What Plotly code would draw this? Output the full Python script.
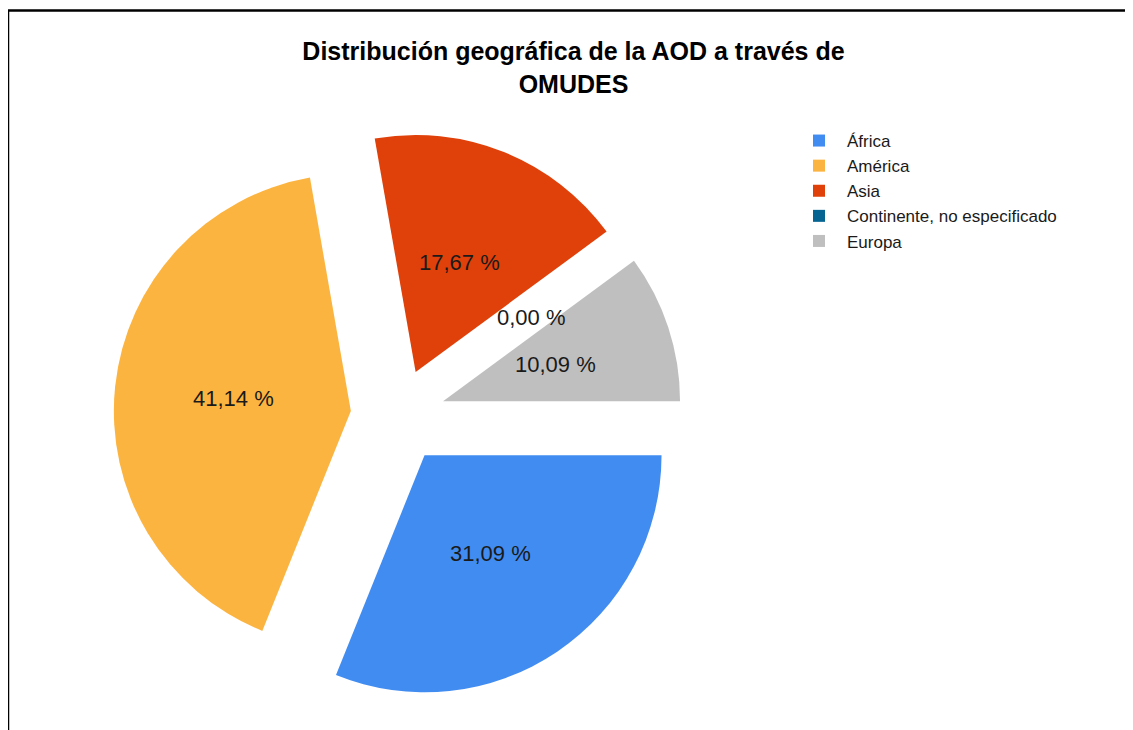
import math
import plotly.graph_objects as go

labels = ["África", "América", "Asia", "Continente, no especificado", "Europa"]
values = [31.09, 41.14, 17.67, 0.00, 10.09]
colors = ["#418CF0", "#FCB441", "#E0400A", "#056492", "#BFBFBF"]
pulls = [0.2, 0.2, 0.2, 0.2, 0.2]

texts = [f"{v:.2f}".replace(".", ",") + " %" for v in values]

W, H = 1133, 730
cx, cy, r = 390, 408, 237
box = 2 * r * (1 + max(pulls))

fig = go.Figure(go.Pie(
    labels=labels,
    values=values,
    textinfo="none",
    sort=False,
    direction="clockwise",
    rotation=90,
    pull=pulls,
    marker=dict(colors=colors, line=dict(width=0)),
    domain=dict(x=[(cx - box / 2) / W, (cx + box / 2) / W],
                y=[1 - (cy + box / 2) / H, 1 - (cy - box / 2) / H]),
    hoverinfo="label+value",
))

# percentage labels placed at half radius along each slice's mid-angle
total = sum(values)
annotations = []
cum = 0.0
for v, t, p in zip(values, texts, pulls):
    theta = math.radians(360 * (cum + v / 2) / total)
    cum += v
    d = p * r + 0.5 * r
    px = cx + d * math.cos(theta)
    py = cy + d * math.sin(theta)
    annotations.append(dict(
        x=px / W, y=1 - py / H, xref="paper", yref="paper",
        text=t, showarrow=False, xanchor="center", yanchor="middle",
        font=dict(family="Liberation Sans, Arial", size=22, color="#1a1a1a"),
    ))

fig.update_layout(
    width=W, height=H,
    margin=dict(l=0, r=0, t=0, b=0),
    paper_bgcolor="white",
    plot_bgcolor="white",
    title=dict(
        text="Distribución geográfica de la AOD a través de<br>OMUDES",
        x=565.5 / W, xanchor="center",
        y=1 - 52 / H, yanchor="middle",
        font=dict(family="Liberation Sans, Arial", size=25, color="#000000", weight="bold"),
    ),
    legend=dict(
        x=783 / W, xanchor="left",
        y=1 - 115 / H, yanchor="top",
        font=dict(family="Liberation Sans, Arial", size=17, color="#1a1a1a"),
        itemwidth=46,
        bgcolor="rgba(0,0,0,0)",
    ),
    annotations=annotations,
    shapes=[dict(type="rect", xref="paper", yref="paper",
                 x0=0, x1=1.05, y0=-0.05, y1=1 - 2.5 / H,
                 line=dict(color="#000000", width=2.5))],
)

fig.write_html("out.html")
